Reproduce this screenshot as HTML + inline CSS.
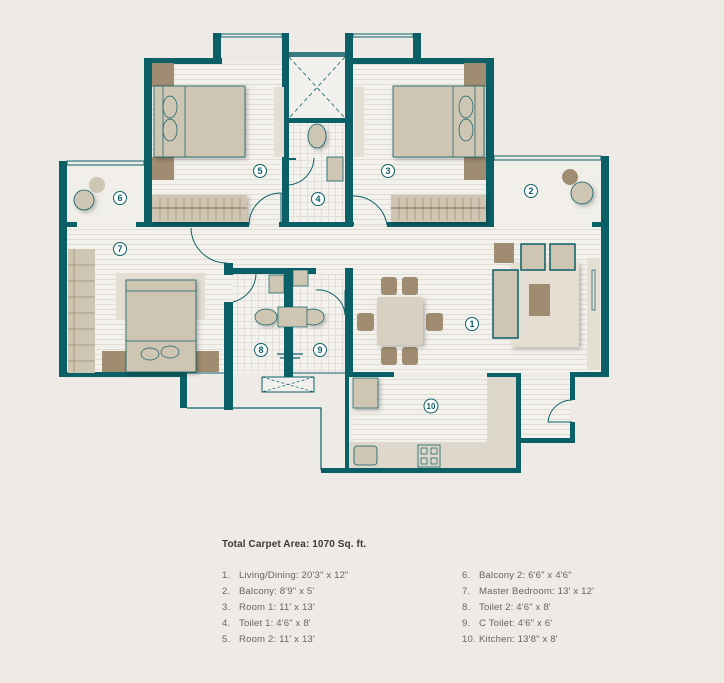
<!DOCTYPE html>
<html><head><meta charset="utf-8"><style>
html,body{margin:0;padding:0;background:#eeebe6;}
svg{display:block;}
text{font-family:"Liberation Sans",sans-serif;}
</style></head><body>
<svg width="724" height="683" viewBox="0 0 724 683" xmlns="http://www.w3.org/2000/svg">
<defs>
<pattern id="fl" width="10" height="5" patternUnits="userSpaceOnUse"><rect width="10" height="5" fill="#f3f1ec"/><line x1="0" y1="4.5" x2="10" y2="4.5" stroke="#e1ddd5" stroke-width="1"/></pattern>
<pattern id="tl" width="7" height="7" patternUnits="userSpaceOnUse"><rect width="7" height="7" fill="#f4f2ee"/><path d="M6.5 0V7M0 6.5H7" stroke="#e3dfd8" stroke-width="1"/></pattern>
<pattern id="dt" width="4" height="4" patternUnits="userSpaceOnUse"><rect width="4" height="4" fill="#f1efea"/><circle cx="1" cy="1" r="0.4" fill="#ddd8cf"/></pattern>
<filter id="sh" x="-20%" y="-20%" width="150%" height="150%"><feDropShadow dx="2" dy="2" stdDeviation="2" flood-color="#000" flood-opacity="0.25"/></filter>
</defs>
<rect width="724" height="683" fill="#eeebe6"/>

<rect x="152" y="63" width="130" height="162" fill="url(#fl)"/>
<rect x="353" y="63" width="133" height="162" fill="url(#fl)"/>
<rect x="289" y="123" width="56" height="102" fill="url(#tl)"/>
<rect x="289" y="57" width="56" height="61" fill="#f2f0ec"/>
<rect x="67" y="166" width="77" height="60" fill="url(#dt)"/>
<rect x="494" y="161" width="107" height="65" fill="url(#dt)"/>
<rect x="67" y="227" width="535" height="146" fill="url(#fl)"/>
<rect x="233" y="275" width="112" height="98" fill="url(#tl)"/>
<rect x="353" y="377" width="163" height="91" fill="url(#fl)"/>
<rect x="521" y="377" width="50" height="62" fill="url(#fl)"/>

<rect x="221" y="34" width="61" height="3" fill="none" stroke="#0b5f66" stroke-width="1"/>
<rect x="353" y="34" width="60" height="3" fill="none" stroke="#0b5f66" stroke-width="1"/>
<rect x="67" y="161" width="77" height="4" fill="none" stroke="#0b5f66" stroke-width="1"/>
<rect x="494" y="156" width="107" height="4" fill="none" stroke="#0b5f66" stroke-width="1"/>
<rect x="289" y="52" width="56" height="5" fill="#0b5f66" opacity="0.8"/>
<path d="M289 57L345 118M345 57L289 118" stroke="#0b5f66" stroke-width="0.8" stroke-dasharray="4 3"/>

<g fill="#0b5f66">
<rect x="144" y="58" width="78" height="6"/>
<rect x="213" y="33" width="8" height="30"/>
<rect x="282" y="33" width="7" height="193"/>
<rect x="345" y="33" width="8" height="193"/>
<rect x="353" y="58" width="68" height="6"/>
<rect x="413" y="33" width="8" height="30"/>
<rect x="421" y="58" width="73" height="6"/>
<rect x="144" y="58" width="8" height="169"/>
<rect x="486" y="58" width="8" height="169"/>
<rect x="289" y="118" width="56" height="5"/>
<rect x="136" y="222" width="113" height="5"/>
<rect x="279" y="222" width="74" height="5"/>
<rect x="387" y="222" width="107" height="5"/>
<rect x="286" y="185" width="3" height="40"/>
<rect x="286" y="158" width="10" height="2"/>
<rect x="350" y="222" width="4" height="4"/>
<rect x="59" y="161" width="8" height="216"/>
<rect x="59" y="222" width="18" height="5"/>
<rect x="592" y="222" width="17" height="5"/>
<rect x="601" y="156" width="8" height="221"/>
<rect x="59" y="372" width="128" height="5"/>
<rect x="180" y="372" width="7" height="36"/>
<rect x="224" y="263" width="9" height="12"/>
<rect x="224" y="302" width="9" height="108"/>
<rect x="224" y="268" width="92" height="6"/>
<rect x="284" y="268" width="9" height="109"/>
<rect x="345" y="268" width="8" height="109"/>
<rect x="345" y="377" width="4" height="93"/>
<rect x="345" y="372" width="49" height="5"/>
<rect x="487" y="373" width="34" height="5"/>
<rect x="516" y="373" width="5" height="100"/>
<rect x="321" y="468" width="200" height="5"/>
<rect x="570" y="372" width="39" height="5"/>
<rect x="570" y="372" width="5" height="28"/>
<rect x="570" y="422" width="5" height="21"/>
<rect x="521" y="438" width="54" height="5"/>
</g>
<path d="M187 408H321V470M233 408" stroke="#0b5f66" stroke-width="1.2" fill="none"/>
<path d="M187 373H224M293 373H345" stroke="#0b5f66" stroke-width="1" fill="none"/>
<rect x="262" y="377" width="52" height="15" fill="#f2f0ec" stroke="#0b5f66" stroke-width="1"/>
<path d="M262 377L314 392M314 377L262 392" stroke="#0b5f66" stroke-width="0.7" stroke-dasharray="3 2"/>

<g fill="none" stroke="#0b5f66" stroke-width="1">
<path d="M249 225A32 32 0 0 1 281 193V225"/>
<path d="M353 196A34 34 0 0 1 387 225"/>
<path d="M314 158A28 28 0 0 1 289 185"/>
<path d="M191 228A36 36 0 0 0 227 263"/>
<path d="M233 302A30 30 0 0 0 256 274"/>
<path d="M316 290A27 27 0 0 1 345 315V290"/>
<path d="M572 400A24 24 0 0 0 548 422H572"/>
</g>

<rect x="152" y="63" width="22" height="24" fill="#a08c70"/>
<rect x="152" y="157" width="22" height="23" fill="#a08c70"/>
<rect x="154" y="86" width="91" height="71" fill="#cfc5b3" stroke="#0b5f66" stroke-width="0.8" filter="url(#sh)"/>
<path d="M163 86V157M185 86V157" stroke="#0b5f66" stroke-width="0.7"/>
<ellipse cx="170" cy="107" rx="7" ry="11" fill="#cfc5b3" stroke="#0b5f66" stroke-width="0.7"/>
<ellipse cx="170" cy="130" rx="7" ry="11" fill="#cfc5b3" stroke="#0b5f66" stroke-width="0.7"/>
<rect x="274" y="87" width="10" height="70" fill="#e4ded3"/>
<rect x="152" y="195" width="95" height="27" fill="#cfc5b3" filter="url(#sh)"/>
<path d="M152 208H247" stroke="#a08c70" stroke-width="1.5"/>
<path d="M160 198V220M168 198V220M176 198V220M184 198V220M192 198V220M200 198V220M208 198V220M216 198V220M224 198V220M232 198V220M240 198V220" stroke="#a08c70" stroke-width="0.7"/>
<rect x="464" y="63" width="22" height="24" fill="#a08c70"/>
<rect x="464" y="157" width="22" height="23" fill="#a08c70"/>
<rect x="393" y="86" width="91" height="71" fill="#cfc5b3" stroke="#0b5f66" stroke-width="0.8" filter="url(#sh)"/>
<path d="M475 86V157M453 86V157" stroke="#0b5f66" stroke-width="0.7"/>
<ellipse cx="466" cy="107" rx="7" ry="11" fill="#cfc5b3" stroke="#0b5f66" stroke-width="0.7"/>
<ellipse cx="466" cy="130" rx="7" ry="11" fill="#cfc5b3" stroke="#0b5f66" stroke-width="0.7"/>
<rect x="354" y="87" width="10" height="70" fill="#e4ded3"/>
<rect x="391" y="195" width="95" height="27" fill="#cfc5b3" filter="url(#sh)"/>
<path d="M391 208H486" stroke="#a08c70" stroke-width="1.5"/>
<path d="M399 198V220M407 198V220M415 198V220M423 198V220M431 198V220M439 198V220M447 198V220M455 198V220M463 198V220M471 198V220M479 198V220" stroke="#a08c70" stroke-width="0.7"/>
<ellipse cx="317" cy="136" rx="9" ry="12" fill="#cfc5b3" stroke="#0b5f66" stroke-width="0.8" filter="url(#sh)"/>
<rect x="327" y="157" width="16" height="24" fill="#cfc5b3" stroke="#0b5f66" stroke-width="0.8"/>
<circle cx="97" cy="185" r="8" fill="#cfc5b3"/>
<circle cx="84" cy="200" r="10" fill="#cfc5b3" stroke="#0b5f66" stroke-width="0.8" filter="url(#sh)"/>
<circle cx="570" cy="177" r="8" fill="#a08c70"/>
<circle cx="582" cy="193" r="11" fill="#cfc5b3" stroke="#0b5f66" stroke-width="0.8" filter="url(#sh)"/>
<rect x="68" y="249" width="27" height="124" fill="#cfc5b3"/>
<path d="M74 249V373M68 265H95M68 281H95M68 297H95M68 313H95M68 329H95M68 345H95M68 361H95" stroke="#a08c70" stroke-width="0.7"/>
<rect x="116" y="273" width="89" height="47" fill="#e3ddd2"/>
<rect x="102" y="351" width="25" height="21" fill="#a08c70"/>
<rect x="196" y="351" width="23" height="21" fill="#a08c70"/>
<rect x="126" y="280" width="70" height="92" fill="#cfc5b3" stroke="#0b5f66" stroke-width="0.8" filter="url(#sh)"/>
<path d="M126 291H196M126 341H196" stroke="#0b5f66" stroke-width="0.7"/>
<ellipse cx="150" cy="354" rx="9" ry="6" fill="#cfc5b3" stroke="#0b5f66" stroke-width="0.7"/>
<ellipse cx="170" cy="352" rx="9" ry="6" fill="#cfc5b3" stroke="#0b5f66" stroke-width="0.7"/>
<rect x="269" y="275" width="15" height="18" fill="#cfc5b3" stroke="#0b5f66" stroke-width="0.7"/>
<rect x="293" y="270" width="15" height="16" fill="#cfc5b3" stroke="#0b5f66" stroke-width="0.7"/>
<ellipse cx="266" cy="317" rx="11" ry="8" fill="#cfc5b3" stroke="#0b5f66" stroke-width="0.7" filter="url(#sh)"/>
<ellipse cx="313" cy="317" rx="11" ry="8" fill="#cfc5b3" stroke="#0b5f66" stroke-width="0.7" filter="url(#sh)"/>
<rect x="278" y="307" width="29" height="20" fill="#cfc5b3" stroke="#0b5f66" stroke-width="0.7"/>
<path d="M277 354H303M280 358H300" stroke="#0b5f66" stroke-width="1.2"/>
<g fill="#a08c70">
<rect x="381" y="277" width="16" height="18" rx="3"/><rect x="402" y="277" width="16" height="18" rx="3"/>
<rect x="381" y="347" width="16" height="18" rx="3"/><rect x="402" y="347" width="16" height="18" rx="3"/>
<rect x="357" y="313" width="17" height="18" rx="3"/><rect x="426" y="313" width="17" height="18" rx="3"/>
</g>
<rect x="377" y="297" width="46" height="48" rx="3" fill="#d8d0c3" filter="url(#sh)"/>
<rect x="511" y="262" width="68" height="85" fill="#e4ded3" filter="url(#sh)"/>
<rect x="493" y="270" width="25" height="68" fill="#cfc5b3" stroke="#0b5f66" stroke-width="1.5"/>
<rect x="529" y="284" width="21" height="32" fill="#a08c70"/>
<rect x="494" y="243" width="20" height="20" fill="#a08c70"/>
<rect x="521" y="244" width="24" height="26" fill="#cfc5b3" stroke="#0b5f66" stroke-width="1.5"/>
<rect x="550" y="244" width="25" height="26" fill="#cfc5b3" stroke="#0b5f66" stroke-width="1.5"/>
<rect x="587" y="258" width="13" height="112" fill="#e4ded3"/>
<rect x="592" y="270" width="3" height="40" fill="none" stroke="#0b5f66" stroke-width="0.7"/>
<rect x="349" y="442" width="167" height="26" fill="#ded7cb"/>
<rect x="487" y="377" width="29" height="91" fill="#ded7cb"/>
<rect x="353" y="378" width="25" height="30" fill="#cfc5b3" stroke="#0b5f66" stroke-width="0.7" filter="url(#sh)"/>
<rect x="354" y="446" width="23" height="19" rx="3" fill="#cfc5b3" stroke="#0b5f66" stroke-width="0.8"/>
<rect x="418" y="445" width="22" height="22" fill="#ded7cb" stroke="#0b5f66" stroke-width="0.8"/>
<g fill="none" stroke="#0b5f66" stroke-width="0.7"><rect x="421" y="448" width="6" height="6"/><rect x="431" y="448" width="6" height="6"/><rect x="421" y="458" width="6" height="6"/><rect x="431" y="458" width="6" height="6"/></g>

<g font-size="9" fill="#0b5f66" text-anchor="middle" font-weight="bold">
<g fill="#fff" stroke="#0b5f66" stroke-width="1">
<circle cx="260" cy="171" r="6.5"/><circle cx="318" cy="199" r="6.5"/><circle cx="388" cy="171" r="6.5"/>
<circle cx="120" cy="198" r="6.5"/><circle cx="531" cy="191" r="6.5"/><circle cx="120" cy="249" r="6.5"/>
<circle cx="472" cy="324" r="6.5"/><circle cx="261" cy="350" r="6.5"/><circle cx="320" cy="350" r="6.5"/>
<circle cx="431" cy="406" r="7"/>
</g>
<text x="260" y="174">5</text><text x="318" y="202">4</text><text x="388" y="174">3</text>
<text x="120" y="201">6</text><text x="531" y="194">2</text><text x="120" y="252">7</text>
<text x="472" y="327">1</text><text x="261" y="353">8</text><text x="320" y="353">9</text>
<text x="431" y="409" font-size="8">10</text>
</g>

<text x="222" y="547" font-size="10" font-weight="bold" fill="#3a3a3a" letter-spacing="0.1">Total Carpet Area: 1070 Sq. ft.</text>
<g font-size="9.6" fill="#666" letter-spacing="0.15">
<text x="222" y="578">1.</text><text x="239" y="578">Living/Dining: 20'3" x 12"</text>
<text x="222" y="594">2.</text><text x="239" y="594">Balcony: 8'9" x 5'</text>
<text x="222" y="610">3.</text><text x="239" y="610">Room 1: 11' x 13'</text>
<text x="222" y="626">4.</text><text x="239" y="626">Toilet 1: 4'6" x 8'</text>
<text x="222" y="642">5.</text><text x="239" y="642">Room 2: 11' x 13'</text>
<text x="462" y="578">6.</text><text x="479" y="578">Balcony 2: 6'6" x 4'6"</text>
<text x="462" y="594">7.</text><text x="479" y="594">Master Bedroom: 13' x 12'</text>
<text x="462" y="610">8.</text><text x="479" y="610">Toilet 2: 4'6" x 8'</text>
<text x="462" y="626">9.</text><text x="479" y="626">C Toilet: 4'6" x 6'</text>
<text x="462" y="642">10.</text><text x="479" y="642">Kitchen: 13'8" x 8'</text>
</g>
</svg>
</body></html>
